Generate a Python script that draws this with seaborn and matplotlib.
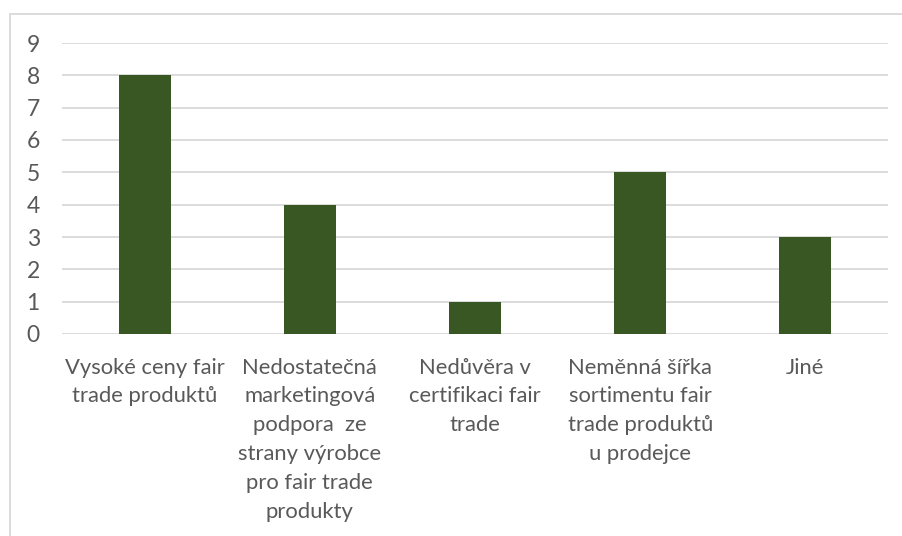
import matplotlib
matplotlib.use("Agg")
import matplotlib.pyplot as plt
import seaborn as sns
import pandas as pd
from matplotlib.patches import Rectangle

# chart data
categories = [
    "Vysoké ceny fair\ntrade produktů",
    "Nedostatečná\nmarketingová\npodpora  ze\nstrany výrobce\npro fair trade\nprodukty",
    "Nedůvěra v\ncertifikaci fair\ntrade",
    "Neměnná šířka\nsortimentu fair\ntrade produktů\nu prodejce",
    "Jiné",
]
values = [8, 4, 1, 5, 3]
y_ticks = list(range(0, 10))

df = pd.DataFrame({"kategorie": categories, "pocet": values})

sns.set_theme(style="white")
plt.rcParams["font.family"] = ["Lato", "DejaVu Sans"]

text_color = "#595959"
grid_color = "#d9d9d9"

fig = plt.figure(figsize=(9.02, 5.36), dpi=100)
ax = fig.add_axes([62 / 902, 1 - 334 / 536, (888 - 62) / 902, (334 - 43) / 536])

sns.barplot(data=df, x="kategorie", y="pocet", color="#385723", saturation=1,
            width=0.315, linewidth=0, ax=ax)

ax.set_ylim(0, 9)
ax.set_yticks(y_ticks)
ax.set_xlim(-0.5, len(categories) - 0.5)
ax.set_axisbelow(True)
ax.yaxis.grid(True, color=grid_color, linewidth=1.3)
ax.xaxis.grid(False)
for s in ax.spines.values():
    s.set_visible(False)

ax.set_xlabel("")
ax.set_ylabel("")
ax.tick_params(axis="y", length=0, pad=16, labelsize=16.5, labelcolor=text_color)
ax.tick_params(axis="x", length=0, pad=17, labelsize=15.8, labelcolor=text_color)
for lbl in ax.get_xticklabels():
    lbl.set_linespacing(1.55)
    lbl.set_multialignment("center")

# chart frame
fig.patches.append(Rectangle((10 / 902, -0.1), 1.2, 1 - 14 / 536 + 0.1,
                             transform=fig.transFigure, fill=False,
                             edgecolor=grid_color, linewidth=1.3))

fig.savefig("out.png", dpi=100)
